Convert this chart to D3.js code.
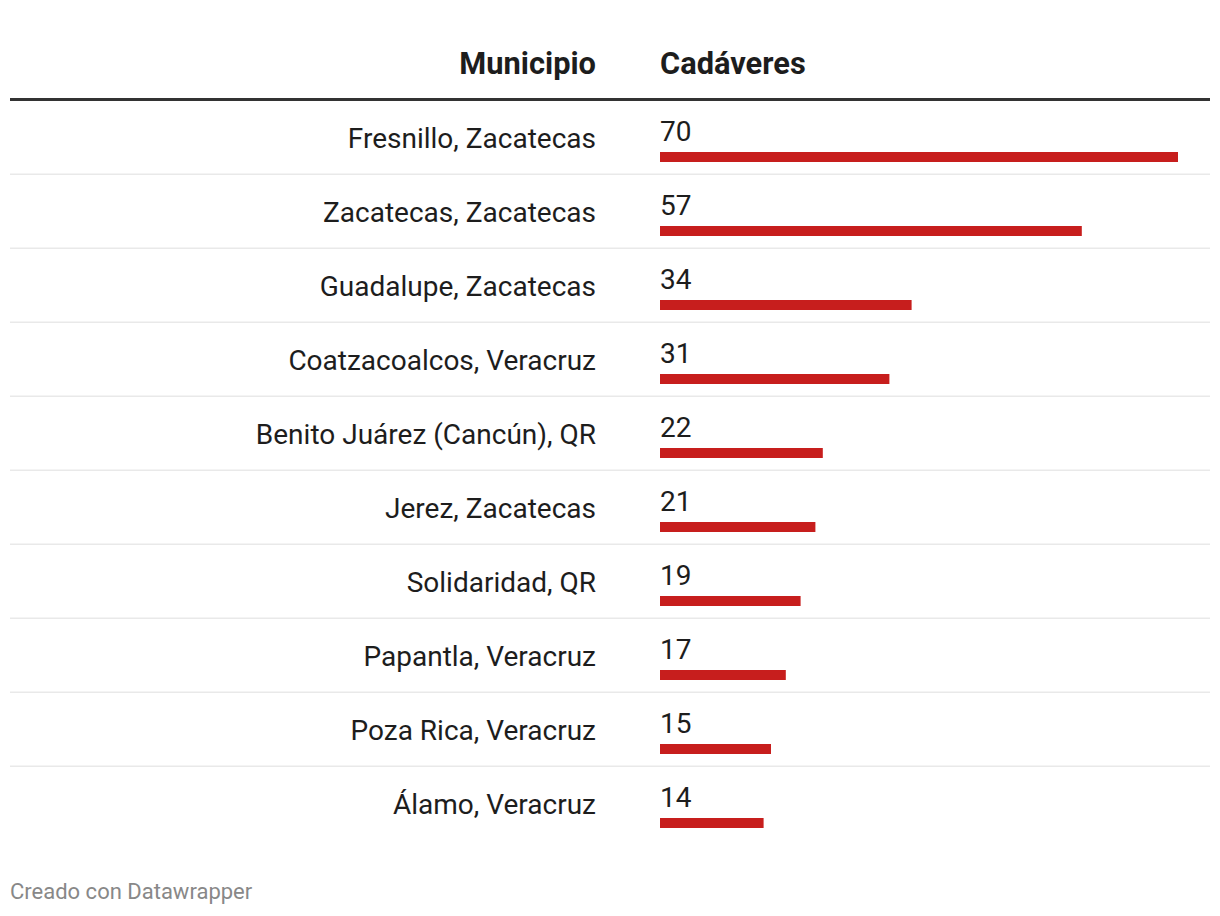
<!DOCTYPE html>
<html><head><meta charset="utf-8">
<script src="https://cdn.jsdelivr.net/npm/d3@7"></script>
<style>
html,body{margin:0;padding:0;background:#fff;}
svg{display:block;font-family:Roboto,sans-serif;}
</style></head>
<body>
<svg id="chart" width="1220" height="916"></svg>
<script>
const municipios = ["Fresnillo, Zacatecas","Zacatecas, Zacatecas","Guadalupe, Zacatecas","Coatzacoalcos, Veracruz","Benito Juárez (Cancún), QR","Jerez, Zacatecas","Solidaridad, QR","Papantla, Veracruz","Poza Rica, Veracruz","Álamo, Veracruz"];
const cadaveres = [70,57,34,31,22,21,19,17,15,14];
const headers = ["Municipio","Cadáveres"];
const footer = "Creado con Datawrapper";

const svg = d3.select("#chart");
const rowTop = 101, rowH = 74;
const y = d3.scaleBand().domain(municipios).range([rowTop, rowTop + rowH*municipios.length]).padding(0);
const x = d3.scaleLinear().domain([0, 70]).range([660, 1178]);

// headers
svg.append("text").attr("x",596).attr("y",74).attr("text-anchor","end")
  .attr("font-size",30.8).attr("font-weight",700).attr("fill","#1d1d1d").text(headers[0]);
svg.append("text").attr("x",660).attr("y",74)
  .attr("font-size",30.8).attr("font-weight",700).attr("fill","#1d1d1d").text(headers[1]);
svg.append("rect").attr("x",10).attr("y",98).attr("width",1200).attr("height",3).attr("fill","#333");

const rows = svg.selectAll("g.row").data(municipios.map((m,i)=>({m, v:cadaveres[i], i})))
  .enter().append("g").attr("class","row").attr("transform",d=>`translate(0,${y(d.m)})`);

rows.filter(d=>d.i < municipios.length-1).append("rect")
  .attr("x",10).attr("y",rowH-1.5).attr("width",1200).attr("height",1.5).attr("fill","#e9e9e9");

rows.append("text").attr("x",596).attr("y",47).attr("text-anchor","end")
  .attr("font-size",28).attr("fill","#1d1d1d").text(d=>d.m);
rows.append("text").attr("x",660).attr("y",39.5)
  .attr("font-size",28).attr("fill","#1d1d1d").text(d=>d.v);
rows.append("rect").attr("x",x(0)).attr("y",51).attr("height",10)
  .attr("width",d=>x(d.v)-x(0)).attr("fill","#c71e1d");

svg.append("text").attr("x",10).attr("y",899).attr("font-size",22).attr("fill","#888").text(footer);
</script>
</body></html>
